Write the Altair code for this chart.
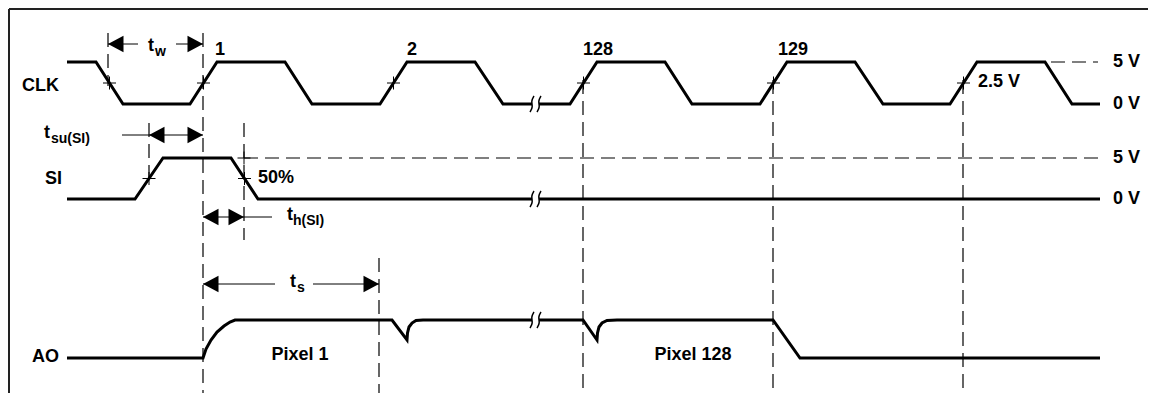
import altair as alt
import pandas as pd

# ---------------- data (pixel-like time / level units) -------------
clk_x1 = [67, 96, 123, 190, 217, 285, 312, 380, 407, 475, 503, 532]
clk_y1 = [62, 62, 104, 104, 62, 62, 104, 104, 62, 62, 104, 104]
clk_x2 = [539, 570, 597, 665, 692, 760, 787, 855, 883, 950, 977, 1045, 1072, 1100]
clk_y2 = [104, 104, 62, 62, 104, 104, 62, 62, 104, 104, 62, 62, 104, 104]

si_x1 = [67, 135, 163, 231, 258, 532]
si_y1 = [199, 199, 158, 158, 199, 199]
si_x2 = [539, 1100]
si_y2 = [199, 199]

ao_x1 = [67, 203, 206, 211, 217, 224, 230, 235, 392, 407, 407.5, 409, 412, 416, 423, 532]
ao_y1 = [358, 358, 349, 340, 332, 326, 322, 320, 320, 340, 333, 327, 323, 320.5, 320, 320]
ao_x2 = [539, 583, 597, 597.5, 599, 602, 607, 617, 773, 800, 1100]
ao_y2 = [320, 320, 340, 333, 327, 323, 320.5, 320, 320, 358, 358]

break_x = [532, 539, 532, 539, 532, 539]
break_y = [104, 104, 199, 199, 320, 320]

vdash_x = [108, 203, 149, 244, 379, 583, 773, 963]
vdash_y1 = [33, 33, 123, 123, 258, 80, 80, 80]
vdash_y2 = [86, 393, 183, 240, 393, 393, 393, 393]
hdash_y = [62, 158]
hdash_x1 = [1051, 244]
hdash_x2 = [1098, 1098]

cross_x = [109.5, 203.5, 393.5, 583.5, 773.5, 963.5, 149, 244.5, 244]
cross_y = [83, 83, 83, 83, 83, 83, 178.5, 178.5, 158]

dim_x1 = [108, 176, 122, 203, 203, 313]
dim_x2 = [138, 203, 203, 272, 275, 379]
dim_y = [44, 44, 135, 217, 284, 284]
arrowL_x = [108, 149, 203, 203]
arrowL_y = [44, 135, 217, 284]
arrowR_x = [203, 203, 244, 379]
arrowR_y = [44, 135, 217, 284]

lbl_left_text = ["CLK", "SI", "AO", "5 V", "0 V", "5 V", "0 V", "2.5 V", "50%", "t", "t", "t", "t"]
lbl_left_x = [22, 45, 32, 1113, 1113, 1113, 1113, 978, 258, 148, 44, 287, 290]
lbl_left_y = [86, 179, 357, 62, 104, 158, 199, 82, 178, 46, 133, 215, 282]
sub_text = ["w", "su(SI)", "h(SI)", "s"]
sub_x = [155, 51, 293, 297]
sub_y = [52, 139, 221, 288]
lbl_center_text = ["1", "2", "128", "129", "Pixel 1", "Pixel 128"]
lbl_center_x = [220, 412, 598, 793, 300, 693]
lbl_center_y = [50, 50, 50, 50, 355, 355]

# ---------------- build tables ----------------
rows = []
for name, xs_, ys_ in [("clk1", clk_x1, clk_y1), ("clk2", clk_x2, clk_y2),
                       ("si1", si_x1, si_y1), ("si2", si_x2, si_y2),
                       ("ao1", ao_x1, ao_y1), ("ao2", ao_x2, ao_y2)]:
    for i, (a, b) in enumerate(zip(xs_, ys_)):
        rows.append({"key": name, "ord": i, "x": a, "y": b})
wave = pd.DataFrame(rows)

GLYPH = [(2, -8), (-1, -3), (1, 3), (-2, 8)]
srows = []
for k, (bx, by) in enumerate(zip(break_x, break_y)):
    for i, (dx, dy) in enumerate(GLYPH):
        srows.append({"key": k, "ord": i, "x": bx + dx, "y": by + dy})
squig = pd.DataFrame(srows)

vdash = pd.DataFrame({"x": vdash_x, "y": vdash_y1, "y2": vdash_y2})
hdash = pd.DataFrame({"y": hdash_y, "x": hdash_x1, "x2": hdash_x2})
cross = pd.DataFrame({"x": cross_x, "y": cross_y})
dims = pd.DataFrame({"x": dim_x1, "x2": dim_x2, "y": dim_y})
arrL = pd.DataFrame({"x": arrowL_x, "y": arrowL_y})
arrR = pd.DataFrame({"x": arrowR_x, "y": arrowR_y})
tl = pd.DataFrame({"x": lbl_left_x, "y": lbl_left_y, "t": lbl_left_text})
ts = pd.DataFrame({"x": sub_x, "y": sub_y, "t": sub_text})
tc = pd.DataFrame({"x": lbl_center_x, "y": lbl_center_y, "t": lbl_center_text})
frame = pd.DataFrame({"x": [9], "x2": [1148], "y": [9], "y2": [393]})

# ---------------- scales ----------------
xs = alt.Scale(domain=[8, 1148], nice=False, zero=False)
ys = alt.Scale(domain=[8, 393], reverse=True, nice=False, zero=False)
X = alt.X("x:Q", scale=xs, axis=None)
Y = alt.Y("y:Q", scale=ys, axis=None)

FONT = "Liberation Sans"
INK = "#000000"

waves = alt.Chart(wave).mark_line(strokeWidth=3, color=INK, strokeJoin="miter").encode(
    x=X, y=Y, detail="key:N", order="ord:Q")
squigs = alt.Chart(squig).mark_line(strokeWidth=1.5, color=INK, interpolate="basis").encode(
    x=X, y=Y, detail="key:N", order="ord:Q")
vd = alt.Chart(vdash).mark_rule(strokeWidth=1.2, color=INK, strokeDash=[14, 7]).encode(
    x=X, y=Y, y2="y2:Q")
hd = alt.Chart(hdash).mark_rule(strokeWidth=1.2, color=INK, strokeDash=[14, 7]).encode(
    x=X, x2="x2:Q", y=Y)
cr = alt.Chart(cross).mark_point(shape="M-1,0L1,0M0,-1L0,1", filled=False, size=169,
                                 strokeWidth=1, color=INK, opacity=1).encode(x=X, y=Y)
dl = alt.Chart(dims).mark_rule(strokeWidth=1, color=INK).encode(x=X, x2="x2:Q", y=Y)
al = alt.Chart(arrL).mark_point(shape="M0,0L2,-1.05L2,1.05Z", filled=True, size=240,
                                color=INK, opacity=1).encode(x=X, y=Y)
ar = alt.Chart(arrR).mark_point(shape="M0,0L-2,-1.05L-2,1.05Z", filled=True, size=240,
                                color=INK, opacity=1).encode(x=X, y=Y)
txl = alt.Chart(tl).mark_text(align="left", baseline="middle", font=FONT, fontWeight="bold",
                              fontSize=18, color=INK).encode(x=X, y=Y, text="t:N")
txs = alt.Chart(ts).mark_text(align="left", baseline="middle", font=FONT, fontWeight="bold",
                              fontSize=14, color=INK).encode(x=X, y=Y, text="t:N")
txc = alt.Chart(tc).mark_text(align="center", baseline="middle", font=FONT, fontWeight="bold",
                              fontSize=18, color=INK).encode(x=X, y=Y, text="t:N")
top = alt.Chart(frame).mark_rule(strokeWidth=2, color="#222222").encode(x=X, x2="x2:Q", y=Y)
left = alt.Chart(frame).mark_rule(strokeWidth=2, color="#222222").encode(x=X, y=Y, y2="y2:Q")

chart = alt.layer(top, left, vd, hd, dl, cr, al, ar, waves, squigs, txl, txs, txc).properties(
    width=1140, height=385, padding=0, autosize=alt.AutoSizeParams(type="none"),
    background="white"
).configure_view(stroke=None)

chart.save("out.html", embed_options={"renderer": "svg", "actions": False})
